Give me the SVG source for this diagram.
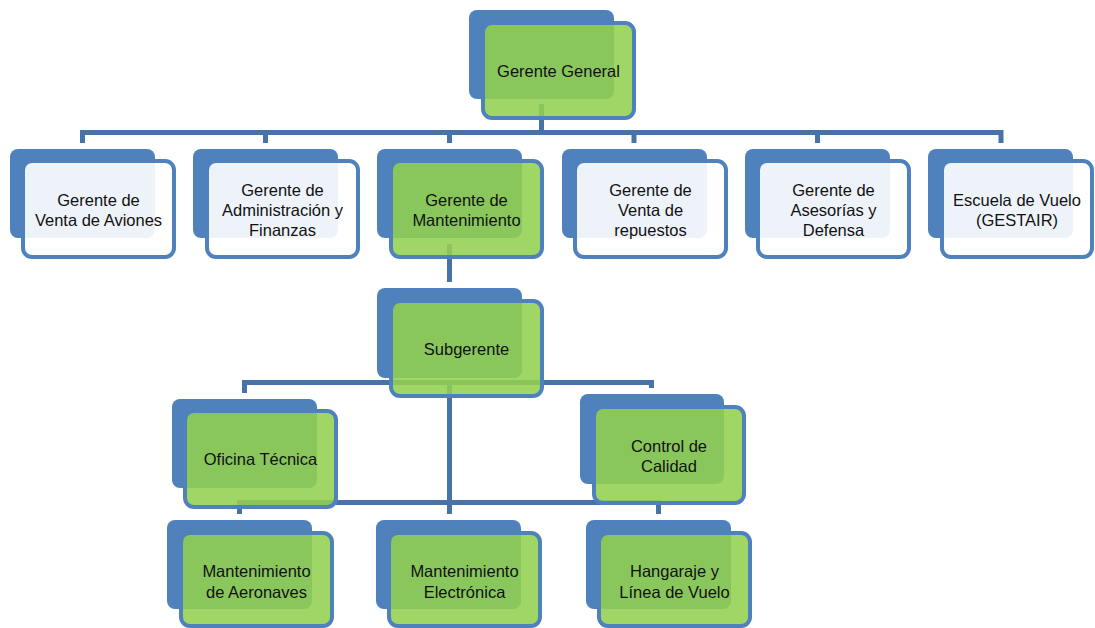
<svg xmlns="http://www.w3.org/2000/svg" width="1095" height="628" viewBox="0 0 1095 628">
<style>
.bk{fill:#4f81bd;}
.fw{fill:#ffffff;fill-opacity:0.9;stroke:#4f81bd;stroke-width:4;}
.fg{fill:#92d050;fill-opacity:0.88;stroke:#4f81bd;stroke-width:4;}
.cn{fill:none;stroke:#4873a8;stroke-width:5;}
text{font-family:"Liberation Sans",Arial,sans-serif;font-size:16.5px;fill:#111;text-anchor:middle;}
</style>
<rect width="1095" height="628" fill="#ffffff"/>
<g id="connectors">
<path class="cn" d="M541.5,104 V132.5"/>
<path class="cn" d="M82.5,143 V132.5 H1001 V143"/>
<path class="cn" d="M265.5,132.5 V143 M449.5,132.5 V143 M634,132.5 V143 M817.5,132.5 V143"/>
<path class="cn" d="M449.5,244 V282"/>
<path class="cn" d="M244.5,393 V382.5 H651.5 V388"/>
<path class="cn" d="M449.5,384 V514"/>
<path class="cn" d="M239.5,514 V502.5 H658.5 V514"/>
</g>
<g id="gerente-general">
<rect class="bk" x="469" y="10" width="145" height="89" rx="8"/>
<rect class="fg" x="483" y="23" width="151" height="95" rx="9"/>
<text x="558.5" y="76.5">Gerente General</text>
</g>
<g id="venta-aviones">
<rect class="bk" x="10" y="149" width="145" height="89" rx="8"/>
<rect class="fw" x="23" y="161" width="151" height="96" rx="9"/>
<text x="98.5" y="205.5">Gerente de</text>
<text x="98.5" y="226">Venta de Aviones</text>
</g>
<g id="administracion">
<rect class="bk" x="193" y="149" width="145" height="89" rx="8"/>
<rect class="fw" x="207" y="161" width="151" height="96" rx="9"/>
<text x="282.5" y="195.5">Gerente de</text>
<text x="282.5" y="215.5">Administración y</text>
<text x="282.5" y="236">Finanzas</text>
</g>
<g id="mantenimiento">
<rect class="bk" x="377" y="149" width="145" height="89" rx="8"/>
<rect class="fg" x="391" y="161" width="151" height="96" rx="9"/>
<text x="466.5" y="205.5">Gerente de</text>
<text x="466.5" y="226">Mantenimiento</text>
</g>
<g id="repuestos">
<rect class="bk" x="562" y="149" width="145" height="89" rx="8"/>
<rect class="fw" x="575" y="161" width="151" height="96" rx="9"/>
<text x="650.5" y="195.5">Gerente de</text>
<text x="650.5" y="215.5">Venta de</text>
<text x="650.5" y="236">repuestos</text>
</g>
<g id="asesorias">
<rect class="bk" x="745" y="149" width="145" height="89" rx="8"/>
<rect class="fw" x="758" y="161" width="151" height="96" rx="9"/>
<text x="833.5" y="195.5">Gerente de</text>
<text x="833.5" y="215.5">Asesorías y</text>
<text x="833.5" y="236">Defensa</text>
</g>
<g id="escuela">
<rect class="bk" x="928" y="149" width="145" height="89" rx="8"/>
<rect class="fw" x="942" y="161" width="150" height="96" rx="9"/>
<text x="1017" y="205.5">Escuela de Vuelo</text>
<text x="1017" y="226">(GESTAIR)</text>
</g>
<g id="subgerente">
<rect class="bk" x="377" y="288" width="145" height="90" rx="8"/>
<rect class="fg" x="391" y="301" width="151" height="95" rx="9"/>
<text x="466.5" y="354.5">Subgerente</text>
</g>
<g id="oficina-tecnica">
<rect class="bk" x="172" y="399" width="145" height="89" rx="8"/>
<rect class="fg" x="185" y="411" width="151" height="96" rx="9"/>
<text x="260.5" y="465">Oficina Técnica</text>
</g>
<g id="control-calidad">
<rect class="bk" x="580" y="394" width="144" height="90" rx="8"/>
<rect class="fg" x="594" y="407" width="150" height="96" rx="9"/>
<text x="669" y="451.5">Control de</text>
<text x="669" y="472">Calidad</text>
</g>
<g id="mant-aeronaves">
<rect class="bk" x="167" y="520" width="145" height="89" rx="8"/>
<rect class="fg" x="181" y="533" width="151" height="93" rx="9"/>
<text x="256.5" y="577">Mantenimiento</text>
<text x="256.5" y="598">de Aeronaves</text>
</g>
<g id="mant-electronica">
<rect class="bk" x="376" y="520" width="145" height="89" rx="8"/>
<rect class="fg" x="389" y="533" width="151" height="93" rx="9"/>
<text x="464.5" y="577">Mantenimiento</text>
<text x="464.5" y="598">Electrónica</text>
</g>
<g id="hangaraje">
<rect class="bk" x="586" y="520" width="145" height="89" rx="8"/>
<rect class="fg" x="599" y="533" width="151" height="93" rx="9"/>
<text x="674.5" y="577">Hangaraje y</text>
<text x="674.5" y="598">Línea de Vuelo</text>
</g>
</svg>
